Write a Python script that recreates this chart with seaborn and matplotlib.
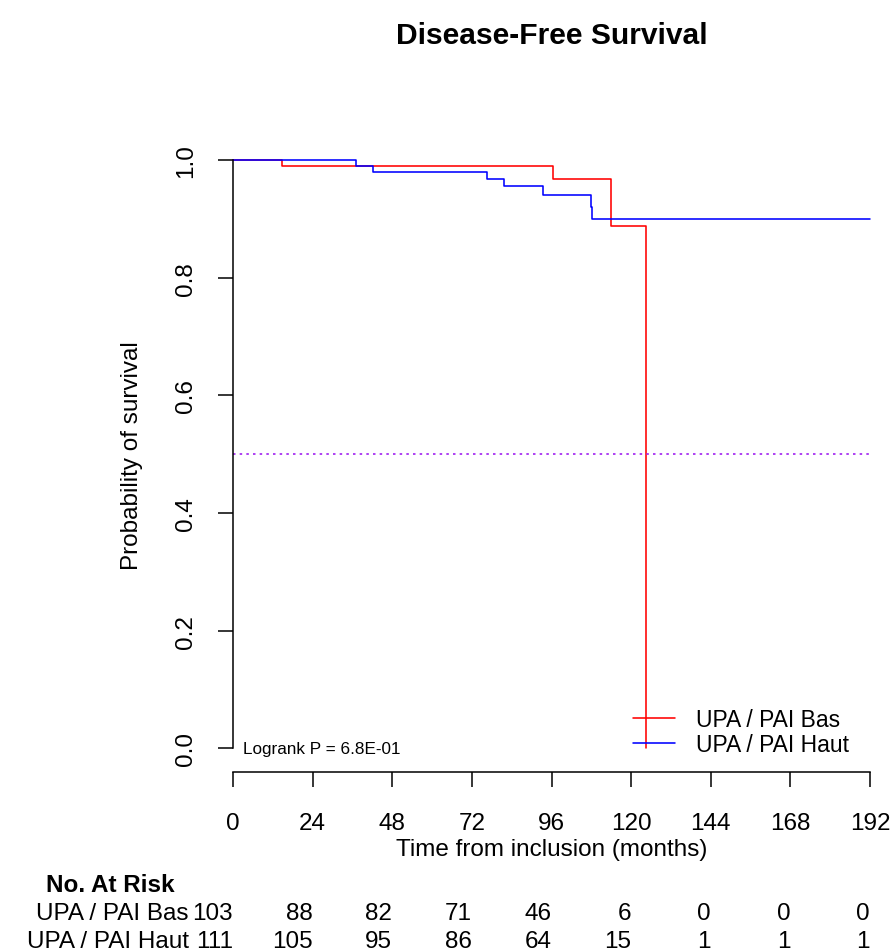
import matplotlib
matplotlib.use("Agg")
import matplotlib.pyplot as plt
import matplotlib.transforms as mtransforms
import seaborn as sns
import pandas as pd
import numpy as np

# ---------------- data ----------------
groups = ["UPA / PAI Bas", "UPA / PAI Haut"]
bas_time = [0, 14.9, 96.4, 113.8, 124.5]
bas_surv = [1.0, 0.990, 0.968, 0.888, 0.0]
haut_time = [0, 37.1, 42.1, 76.7, 81.7, 93.5, 107.9, 108.2, 192]
haut_surv = [1.0, 0.990, 0.980, 0.968, 0.955, 0.941, 0.920, 0.899, 0.899]
x_ticks = [0, 24, 48, 72, 96, 120, 144, 168, 192]
y_ticks = [0.0, 0.2, 0.4, 0.6, 0.8, 1.0]
risk_bas = [103, 88, 82, 71, 46, 6, 0, 0, 0]
risk_haut = [111, 105, 95, 86, 64, 15, 1, 1, 1]
median_line = 0.5
title = "Disease-Free Survival"
xlabel = "Time from inclusion (months)"
ylabel = "Probability of survival"
logrank_text = "Logrank P = 6.8E-01"
colors = {"UPA / PAI Bas": "#FF0000", "UPA / PAI Haut": "#0000FF"}

df = pd.concat([
    pd.DataFrame({"time": bas_time, "surv": bas_surv, "group": groups[0]}),
    pd.DataFrame({"time": haut_time, "surv": haut_surv, "group": groups[1]}),
], ignore_index=True)

sns.set_theme(style="white")
plt.rcParams["font.family"] = ["Liberation Sans", "DejaVu Sans"]

W, H = 893, 953
fig = plt.figure(figsize=(W / 100, H / 100), dpi=100)
ax_left, ax_right, ax_top, ax_bot = 233, 870, 137.4, 773
ax = fig.add_axes([ax_left / W, 1 - ax_bot / H, (ax_right - ax_left) / W, (ax_bot - ax_top) / H])

sns.lineplot(data=df, x="time", y="surv", hue="group", palette=colors,
             estimator=None, sort=False, drawstyle="steps-post", linewidth=1.15,
             ax=ax, legend=True)
for ln in ax.lines:
    ln.set_clip_on(False)

ax.axhline(median_line, color="#A020F0", linestyle=(0, (1.5, 2.5)), linewidth=1.2)

ax.set_xlim(0, 192)
ax.set_ylim(-0.04, 1.04)
ax.set_xticks(x_ticks)
ax.set_yticks(y_ticks)
ax.set_xticklabels([str(t) for t in x_ticks])
ax.set_yticklabels([f"{t:.1f}" for t in y_ticks], rotation=90, va="center")

for s in ["top", "right"]:
    ax.spines[s].set_visible(False)
for s in ["left", "bottom"]:
    ax.spines[s].set_color("black")
    ax.spines[s].set_linewidth(1.1)
ax.spines["left"].set_bounds(0, 1)
ax.spines["bottom"].set_bounds(0, 192)

ax.tick_params(axis="both", which="major", direction="out", length=11, width=1.1,
               color="black", labelsize=17.5, labelcolor="black", bottom=True, left=True)
ax.tick_params(axis="x", pad=18)
ax.tick_params(axis="y", pad=15)

ax.set_xlabel(xlabel, fontsize=17.5, color="black", labelpad=3)
ax.set_ylabel(ylabel, fontsize=17.5, color="black", labelpad=23)
ax.set_title(title, fontsize=21.6, fontweight="bold", color="black", pad=67)

ax.text(3, -0.008, logrank_text, fontsize=12.3, ha="left", va="baseline", color="black")

leg = ax.legend(loc="center left", bbox_to_anchor=(633 / W, 1 - 733 / H),
                bbox_transform=fig.transFigure, frameon=False, fontsize=16.5,
                borderpad=0, borderaxespad=0, handlelength=1.83, handletextpad=0.92,
                labelspacing=0.1, title=None)
for t in leg.get_texts():
    t.set_color("black")

# ---------------- number at risk table ----------------
trans = mtransforms.blended_transform_factory(ax.transData, fig.transFigure)
fig.text(110 / W, 1 - 892 / H, "No. At Risk", fontsize=17.5, fontweight="bold",
         ha="center", va="baseline", color="black")
for row_y, label, vals in [(920, groups[0], risk_bas), (948, groups[1], risk_haut)]:
    fig.text(189 / W, 1 - row_y / H, label, fontsize=17.5, ha="right", va="baseline", color="black")
    for xt, v in zip(x_ticks, vals):
        ax.text(xt, 1 - row_y / H, str(v), transform=trans, fontsize=17.5,
                ha="right", va="baseline", color="black", clip_on=False)

fig.savefig("out.png", dpi=100, facecolor="white")
